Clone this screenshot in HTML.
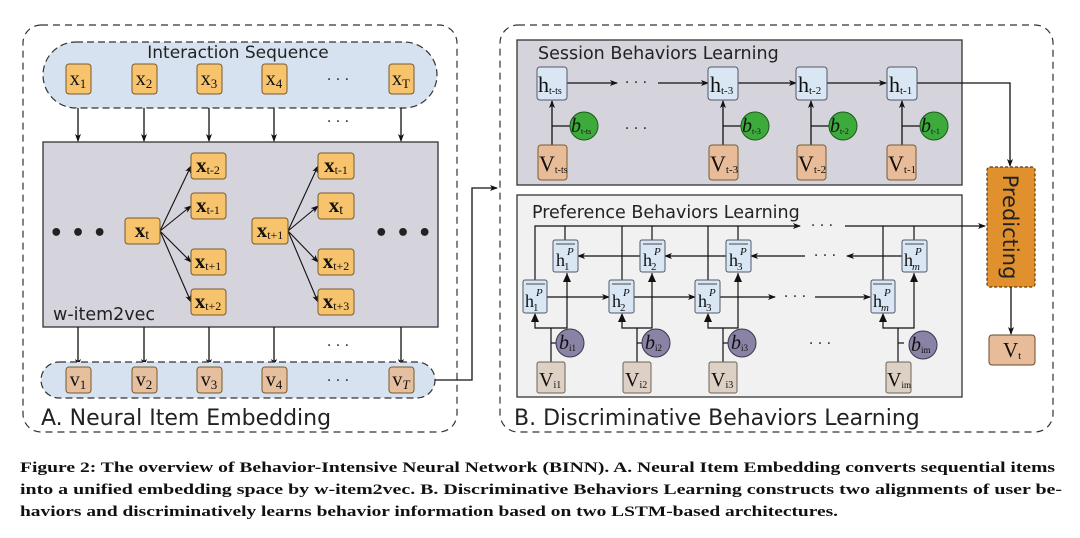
<!DOCTYPE html>
<html><head><meta charset="utf-8"><style>
html,body{margin:0;padding:0;background:#fff;}
svg{display:block;}
.s{font-family:"DejaVu Sans","Liberation Sans",sans-serif;fill:#222;}
.m{font-family:"Liberation Serif","DejaVu Serif",serif;fill:#111;}
.c{font-family:"Liberation Serif",serif;font-weight:bold;fill:#111;font-size:15px;}
</style></head><body>
<svg width="1080" height="538" viewBox="0 0 1080 538" xmlns="http://www.w3.org/2000/svg">
<defs>
<marker id="a" markerWidth="8" markerHeight="8" refX="7" refY="4" orient="auto" markerUnits="userSpaceOnUse"><path d="M0,1 L8,4 L0,7 L2,4 Z" fill="#111"/></marker>
</defs>
<rect width="1080" height="538" fill="#fff"/>

<!-- LEFT PANEL -->
<rect x="23" y="25" width="434" height="407" rx="18" fill="none" stroke="#333" stroke-width="1.2" stroke-dasharray="7,5"/>
<rect x="43" y="42" width="394" height="66" rx="33" fill="#d6e2f0" stroke="#333" stroke-width="1.2" stroke-dasharray="7,4"/>
<text x="238" y="58" class="s" font-size="17" text-anchor="middle">Interaction Sequence</text>
<g stroke="#7a5a2a" stroke-width="1" fill="#f7c36c">
<rect x="66" y="64" width="25" height="30" rx="3"/><rect x="132" y="64" width="25" height="30" rx="3"/><rect x="197" y="64" width="25" height="30" rx="3"/><rect x="262" y="64" width="25" height="30" rx="3"/><rect x="389" y="64" width="25" height="30" rx="3"/>
</g>
<g class="m" font-size="20" text-anchor="middle">
<text x="78" y="85">x<tspan font-size="13" dy="3">1</tspan></text>
<text x="144" y="85">x<tspan font-size="13" dy="3">2</tspan></text>
<text x="209" y="85">x<tspan font-size="13" dy="3">3</tspan></text>
<text x="274" y="85">x<tspan font-size="13" dy="3">4</tspan></text>
<text x="401" y="85">x<tspan font-size="13" dy="3">T</tspan></text>
</g>
<text x="338" y="84" class="s" font-size="14" text-anchor="middle">· · ·</text>
<g stroke="#111" stroke-width="1.3" marker-end="url(#a)">
<line x1="78" y1="108" x2="78" y2="141"/><line x1="144" y1="108" x2="144" y2="141"/><line x1="209" y1="108" x2="209" y2="141"/><line x1="274" y1="108" x2="274" y2="141"/><line x1="401" y1="108" x2="401" y2="141"/>
</g>
<text x="338" y="126" class="s" font-size="14" text-anchor="middle">· · ·</text>
<rect x="43" y="142" width="395" height="185" fill="#d5d4dd" stroke="#333" stroke-width="1.3"/>
<text x="53" y="320" class="s" font-size="17.5">w-item2vec</text>
<text x="78" y="240" class="s" font-size="22" text-anchor="middle" font-weight="bold">• • •</text>
<text x="403" y="240" class="s" font-size="22" text-anchor="middle" font-weight="bold">• • •</text>
<g stroke="#111" stroke-width="1.1" marker-end="url(#a)">
<line x1="160" y1="231" x2="191" y2="166"/><line x1="160" y1="231" x2="191" y2="206"/><line x1="160" y1="231" x2="191" y2="262"/><line x1="160" y1="231" x2="191" y2="302"/>
<line x1="288" y1="231" x2="318" y2="166"/><line x1="288" y1="231" x2="318" y2="206"/><line x1="288" y1="231" x2="318" y2="262"/><line x1="288" y1="231" x2="318" y2="302"/>
</g>
<g stroke="#7a5a2a" stroke-width="1" fill="#f7c36c">
<rect x="125" y="218" width="35" height="26" rx="3"/><rect x="252" y="218" width="36" height="26" rx="3"/>
<rect x="191" y="153" width="35" height="26" rx="3"/><rect x="191" y="193" width="35" height="26" rx="3"/><rect x="191" y="249" width="35" height="26" rx="3"/><rect x="191" y="289" width="35" height="26" rx="3"/>
<rect x="318" y="153" width="36" height="26" rx="3"/><rect x="318" y="193" width="36" height="26" rx="3"/><rect x="318" y="249" width="36" height="26" rx="3"/><rect x="318" y="289" width="36" height="26" rx="3"/>
</g>
<g class="m" font-size="21" font-weight="bold" text-anchor="middle">
<text x="142" y="237">x<tspan font-size="14" dy="2" font-weight="normal">t</tspan></text>
<text x="270" y="237">x<tspan font-size="12" dy="2" font-weight="normal">t+1</tspan></text>
<text x="208" y="172">x<tspan font-size="12" dy="2" font-weight="normal">t-2</tspan></text>
<text x="208" y="212">x<tspan font-size="12" dy="2" font-weight="normal">t-1</tspan></text>
<text x="208" y="268">x<tspan font-size="12" dy="2" font-weight="normal">t+1</tspan></text>
<text x="208" y="308">x<tspan font-size="12" dy="2" font-weight="normal">t+2</tspan></text>
<text x="336" y="172">x<tspan font-size="12" dy="2" font-weight="normal">t-1</tspan></text>
<text x="336" y="212">x<tspan font-size="14" dy="2" font-weight="normal">t</tspan></text>
<text x="336" y="268">x<tspan font-size="12" dy="2" font-weight="normal">t+2</tspan></text>
<text x="336" y="308">x<tspan font-size="12" dy="2" font-weight="normal">t+3</tspan></text>
</g>
<g stroke="#111" stroke-width="1.3" marker-end="url(#a)">
<line x1="78" y1="327" x2="78" y2="366"/><line x1="144" y1="327" x2="144" y2="366"/><line x1="209" y1="327" x2="209" y2="366"/><line x1="274" y1="327" x2="274" y2="366"/><line x1="401" y1="327" x2="401" y2="366"/>
</g>
<text x="338" y="350" class="s" font-size="14" text-anchor="middle">· · ·</text>
<rect x="41" y="362" width="394" height="36" rx="18" fill="#d6e2f0" stroke="#333" stroke-width="1.2" stroke-dasharray="7,4"/>
<g stroke="#7a5a2a" stroke-width="1" fill="#e6bf9f">
<rect x="66" y="367" width="25" height="26" rx="3"/><rect x="132" y="367" width="25" height="26" rx="3"/><rect x="197" y="367" width="25" height="26" rx="3"/><rect x="262" y="367" width="25" height="26" rx="3"/><rect x="389" y="367" width="25" height="26" rx="3"/>
</g>
<g class="m" font-size="20" text-anchor="middle">
<text x="78" y="386">v<tspan font-size="13" dy="3">1</tspan></text>
<text x="144" y="386">v<tspan font-size="13" dy="3">2</tspan></text>
<text x="209" y="386">v<tspan font-size="13" dy="3">3</tspan></text>
<text x="274" y="386">v<tspan font-size="13" dy="3">4</tspan></text>
<text x="401" y="386">v<tspan font-size="13" dy="3" font-style="italic">T</tspan></text>
</g>
<text x="338" y="385" class="s" font-size="14" text-anchor="middle">· · ·</text>
<text x="41" y="425" class="s" font-size="22">A. Neural Item Embedding</text>
<polyline points="435,380 472,380 472,188 497,188" fill="none" stroke="#111" stroke-width="1.3" marker-end="url(#a)"/>

<!-- RIGHT PANEL -->
<rect x="500" y="25" width="553" height="407" rx="18" fill="none" stroke="#333" stroke-width="1.2" stroke-dasharray="7,5"/>
<rect x="517" y="40" width="445" height="145" fill="#d5d4dd" stroke="#333" stroke-width="1.3"/>
<text x="538" y="59" class="s" font-size="17.5">Session Behaviors Learning</text>
<g stroke="#111" stroke-width="1.3" fill="none">
<line x1="567" y1="83" x2="617" y2="83" marker-end="url(#a)"/>
<line x1="658" y1="83" x2="708" y2="83" marker-end="url(#a)"/>
<line x1="738" y1="83" x2="796" y2="83" marker-end="url(#a)"/>
<line x1="827" y1="83" x2="886" y2="83" marker-end="url(#a)"/>
<polyline points="917,83 1010,83 1010,166" marker-end="url(#a)"/>
<line x1="552" y1="145" x2="552" y2="101" marker-end="url(#a)"/><line x1="552" y1="126" x2="570" y2="126"/>
<line x1="723" y1="145" x2="723" y2="101" marker-end="url(#a)"/><line x1="723" y1="126" x2="741" y2="126"/>
<line x1="811" y1="145" x2="811" y2="101" marker-end="url(#a)"/><line x1="811" y1="126" x2="829" y2="126"/>
<line x1="902" y1="145" x2="902" y2="101" marker-end="url(#a)"/><line x1="902" y1="126" x2="920" y2="126"/>
</g>
<text x="636" y="87" class="s" font-size="14" text-anchor="middle">· · ·</text>
<text x="636" y="133" class="s" font-size="14" text-anchor="middle">· · ·</text>
<g stroke="#556" stroke-width="1" fill="#d9e6f4">
<rect x="537" y="67" width="30" height="33" rx="3"/><rect x="708" y="67" width="30" height="33" rx="3"/><rect x="796" y="67" width="31" height="33" rx="3"/><rect x="887" y="67" width="30" height="33" rx="3"/>
</g>
<g stroke="#7a5a2a" stroke-width="1" fill="#e8bc98">
<rect x="538" y="145" width="29" height="35" rx="3"/><rect x="709" y="145" width="29" height="35" rx="3"/><rect x="797" y="145" width="29" height="35" rx="3"/><rect x="887" y="145" width="29" height="35" rx="3"/>
</g>
<g stroke="#1d5a1d" stroke-width="1" fill="#3cab3c">
<circle cx="584" cy="126" r="14"/><circle cx="755" cy="126" r="14"/><circle cx="843" cy="126" r="14"/><circle cx="934" cy="126" r="14"/>
</g>
<g class="m" font-size="22">
<text x="538" y="92">h<tspan font-size="10" dy="2">t-ts</tspan></text>
<text x="710" y="92">h<tspan font-size="11" dy="2">t-3</tspan></text>
<text x="798" y="92">h<tspan font-size="11" dy="2">t-2</tspan></text>
<text x="889" y="92">h<tspan font-size="11" dy="2">t-1</tspan></text>
<text x="539" y="171">V<tspan font-size="10" dy="2">t-ts</tspan></text>
<text x="710" y="171">V<tspan font-size="11" dy="2">t-3</tspan></text>
<text x="798" y="171">V<tspan font-size="11" dy="2">t-2</tspan></text>
<text x="888" y="171">V<tspan font-size="11" dy="2">t-1</tspan></text>
</g>
<g class="m" font-size="20" font-style="italic">
<text x="571" y="132">b<tspan font-size="8" dy="2" font-style="normal">t-ts</tspan></text>
<text x="742" y="132">b<tspan font-size="8" dy="2" font-style="normal">t-3</tspan></text>
<text x="830" y="132">b<tspan font-size="8" dy="2" font-style="normal">t-2</tspan></text>
<text x="921" y="132">b<tspan font-size="8" dy="2" font-style="normal">t-1</tspan></text>
</g>

<!-- Preference -->
<rect x="517" y="195" width="445" height="202" fill="#f1f1f1" stroke="#333" stroke-width="1.3"/>
<text x="532" y="218" class="s" font-size="17.5">Preference Behaviors Learning</text>
<g stroke="#111" stroke-width="1.2" fill="none">
<polyline points="535,280 535,226 800,226" marker-end="url(#a)"/>
<line x1="845" y1="226" x2="985" y2="226" marker-end="url(#a)"/>
<line x1="565" y1="240" x2="565" y2="226"/>
<line x1="622" y1="280" x2="622" y2="226"/><line x1="652" y1="240" x2="652" y2="226"/>
<line x1="708" y1="280" x2="708" y2="226"/><line x1="738" y1="240" x2="738" y2="226"/>
<line x1="883" y1="280" x2="883" y2="226"/><line x1="914" y1="240" x2="914" y2="226"/>
<line x1="902" y1="256" x2="847" y2="256" marker-end="url(#a)"/>
<line x1="805" y1="256" x2="751" y2="256" marker-end="url(#a)"/>
<line x1="726" y1="256" x2="665" y2="256" marker-end="url(#a)"/>
<line x1="640" y1="256" x2="578" y2="256" marker-end="url(#a)"/>
<line x1="547" y1="297" x2="609" y2="297" marker-end="url(#a)"/>
<line x1="634" y1="297" x2="695" y2="297" marker-end="url(#a)"/>
<line x1="720" y1="297" x2="775" y2="297" marker-end="url(#a)"/>
<line x1="815" y1="297" x2="870" y2="297" marker-end="url(#a)"/>
<line x1="551" y1="362" x2="551" y2="328"/><polyline points="535,314 535,328 567,328 567,273" /><line x1="551" y1="343" x2="557" y2="343"/>
<line x1="637" y1="362" x2="637" y2="328"/><polyline points="622,314 622,328 652,328 652,273"/><line x1="637" y1="343" x2="643" y2="343"/>
<line x1="723" y1="362" x2="723" y2="328"/><polyline points="708,314 708,328 738,328 738,273"/><line x1="723" y1="343" x2="729" y2="343"/>
<line x1="898" y1="362" x2="898" y2="328"/><polyline points="883,314 883,328 914,328 914,273"/><line x1="898" y1="343" x2="904" y2="343"/>
</g>
<g fill="#111">
<path d="M531,322 L535,313 L539,322 Z"/><path d="M563,282 L567,273 L571,282 Z"/>
<path d="M618,322 L622,313 L626,322 Z"/><path d="M648,282 L652,273 L656,282 Z"/>
<path d="M704,322 L708,313 L712,322 Z"/><path d="M734,282 L738,273 L742,282 Z"/>
<path d="M879,322 L883,313 L887,322 Z"/><path d="M910,282 L914,273 L918,282 Z"/>
</g>
<text x="822" y="230" class="s" font-size="14" text-anchor="middle">· · ·</text>
<text x="825" y="260" class="s" font-size="14" text-anchor="middle">· · ·</text>
<text x="795" y="301" class="s" font-size="14" text-anchor="middle">· · ·</text>
<text x="820" y="348" class="s" font-size="14" text-anchor="middle">· · ·</text>
<g stroke="#556" stroke-width="1" fill="#d9e6f4">
<rect x="553" y="240" width="25" height="32" rx="2"/><rect x="640" y="240" width="25" height="32" rx="2"/><rect x="726" y="240" width="25" height="32" rx="2"/><rect x="902" y="240" width="25" height="32" rx="2"/>
<rect x="523" y="280" width="24" height="33" rx="2"/><rect x="609" y="280" width="25" height="33" rx="2"/><rect x="695" y="280" width="25" height="33" rx="2"/><rect x="871" y="280" width="24" height="33" rx="2"/>
</g>
<g stroke="#6a6258" stroke-width="1" fill="#ddd0c4">
<rect x="537" y="362" width="28" height="31" rx="2"/><rect x="623" y="362" width="28" height="31" rx="2"/><rect x="709" y="362" width="28" height="31" rx="2"/><rect x="886" y="362" width="25" height="31" rx="2"/>
</g>
<g stroke="#3c3650" stroke-width="1" fill="#8a83a6">
<circle cx="570" cy="343" r="14"/><circle cx="656" cy="343" r="14"/><circle cx="742" cy="343" r="14"/><circle cx="923" cy="345" r="14"/>
</g>
<g class="m" font-size="18">
<text x="556" y="266">h<tspan font-size="11" dy="4" dx="-1">1</tspan></text><text x="567" y="255" font-size="11" font-style="italic">P</text>
<text x="643" y="266">h<tspan font-size="11" dy="4" dx="-1">2</tspan></text><text x="654" y="255" font-size="11" font-style="italic">P</text>
<text x="729" y="266">h<tspan font-size="11" dy="4" dx="-1">3</tspan></text><text x="740" y="255" font-size="11" font-style="italic">P</text>
<text x="904" y="266">h<tspan font-size="11" dy="4" dx="-1" font-style="italic">m</tspan></text><text x="915" y="255" font-size="11" font-style="italic">P</text>
<text x="525" y="307">h<tspan font-size="11" dy="4" dx="-1">1</tspan></text><text x="536" y="296" font-size="11" font-style="italic">P</text>
<text x="612" y="307">h<tspan font-size="11" dy="4" dx="-1">2</tspan></text><text x="623" y="296" font-size="11" font-style="italic">P</text>
<text x="698" y="307">h<tspan font-size="11" dy="4" dx="-1">3</tspan></text><text x="709" y="296" font-size="11" font-style="italic">P</text>
<text x="873" y="307">h<tspan font-size="11" dy="4" dx="-1" font-style="italic">m</tspan></text><text x="884" y="296" font-size="11" font-style="italic">P</text>
</g>
<g stroke="#111" stroke-width="0.8">
<line x1="556" y1="244" x2="575" y2="244"/><line x1="643" y1="244" x2="662" y2="244"/><line x1="729" y1="244" x2="748" y2="244"/><line x1="905" y1="244" x2="924" y2="244"/>
<line x1="526" y1="284" x2="545" y2="284"/><line x1="612" y1="284" x2="631" y2="284"/><line x1="698" y1="284" x2="717" y2="284"/><line x1="873" y1="284" x2="892" y2="284"/>
</g>
<g class="m" font-size="20">
<text x="539" y="386">V<tspan font-size="10" dy="2">i1</tspan></text>
<text x="625" y="386">V<tspan font-size="10" dy="2">i2</tspan></text>
<text x="711" y="386">V<tspan font-size="10" dy="2">i3</tspan></text>
<text x="887" y="386">V<tspan font-size="9" dy="2">im</tspan></text>
</g>
<g class="m" font-size="20" font-style="italic">
<text x="559" y="349">b<tspan font-size="9" dy="2" font-style="normal">i1</tspan></text>
<text x="645" y="349">b<tspan font-size="9" dy="2" font-style="normal">i2</tspan></text>
<text x="731" y="349">b<tspan font-size="9" dy="2" font-style="normal">i3</tspan></text>
<text x="911" y="351">b<tspan font-size="9" dy="2" font-style="normal">im</tspan></text>
</g>

<!-- Predicting -->
<rect x="987" y="167" width="48" height="120" rx="3" fill="#e0902c" stroke="#5a3a10" stroke-width="1.2" stroke-dasharray="3,2"/>
<text transform="translate(1003,227) rotate(90)" class="s" font-size="21" text-anchor="middle" fill="#222">Predicting</text>
<line x1="1011" y1="287" x2="1011" y2="334" stroke="#111" stroke-width="1.3" marker-end="url(#a)"/>
<rect x="989" y="335" width="46" height="30" rx="3" fill="#e8bc98" stroke="#6a4a2a" stroke-width="1"/>
<text x="1003" y="357" class="m" font-size="21">V<tspan font-size="11" dy="2">t</tspan></text>

<text x="514" y="425" class="s" font-size="22">B. Discriminative Behaviors Learning</text>

<!-- caption -->
<text x="20" y="472" class="c" textLength="1035" lengthAdjust="spacingAndGlyphs">Figure 2: The overview of Behavior-Intensive Neural Network (BINN). A. Neural Item Embedding converts sequential items</text>
<text x="20" y="494" class="c" textLength="1042" lengthAdjust="spacingAndGlyphs">into a unified embedding space by w-item2vec. B. Discriminative Behaviors Learning constructs two alignments of user be-</text>
<text x="20" y="516" class="c" textLength="818" lengthAdjust="spacingAndGlyphs">haviors and discriminatively learns behavior information based on two LSTM-based architectures.</text>
</svg>
</body></html>
